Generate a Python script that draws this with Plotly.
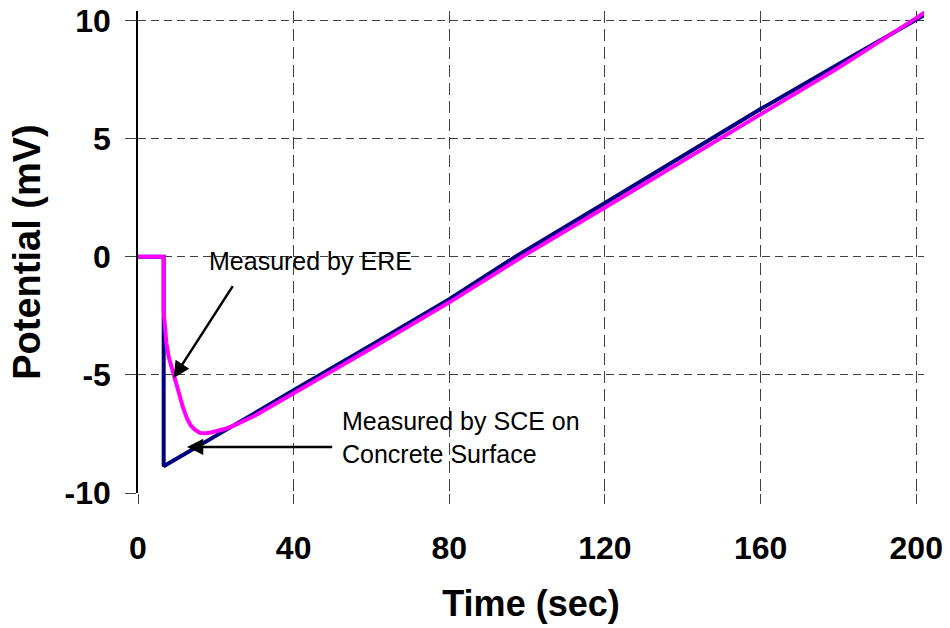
import plotly.graph_objects as go

# ---- data ----
sce_time = [0, 6.6, 6.6, 10, 20, 30, 40, 50, 60, 80, 97, 120, 147, 160, 180, 200, 205]
sce_mv = [0, 0, -8.87, -8.55, -7.6, -6.62, -5.65, -4.7, -3.74, -1.8, 0.0, 2.27, 4.97, 6.25, 8.15, 10.05, 10.5]

ere_time = [0, 6.6, 6.6, 6.9, 7.3, 7.9, 8.6, 9.3, 10.4, 11.5, 12.6, 13.6, 14.7, 16, 17.5, 19, 20.3,
            22.5, 24.6, 27, 30, 40, 50, 60, 80, 98.7, 120, 149.7, 160, 180, 200, 205]
ere_mv = [0, 0, -2.3, -3.0, -3.65, -4.25, -4.7, -5.05, -5.7, -6.35, -6.85, -7.15, -7.33, -7.46, -7.47,
          -7.43, -7.38, -7.28, -7.15, -6.98, -6.73, -5.78, -4.83, -3.87, -1.93, 0.0, 2.08, 5.0, 6.05, 8.0, 10.1, 10.65]

x_ticks = [0, 40, 80, 120, 160, 200]
x_tick_labels = ["0", "40", "80", "120", "160", "200"]
y_ticks = [-10, -5, 0, 5, 10]
y_tick_labels = ["-10", "-5", "0", "5", "10"]

FONT = "Arial, Liberation Sans, sans-serif"

fig = go.Figure()
fig.add_trace(go.Scatter(x=sce_time, y=sce_mv, mode="lines",
                         line=dict(color="#000080", width=4), showlegend=False))
fig.add_trace(go.Scatter(x=ere_time, y=ere_mv, mode="lines",
                         line=dict(color="#FF00FF", width=4), showlegend=False))

# arrows
fig.add_annotation(x=9.15, y=-5.13, ax=24.6, ay=-1.18, xref="x", yref="y", axref="x", ayref="y",
                   text="", showarrow=True, arrowhead=2, arrowsize=1.3, arrowwidth=2.5, arrowcolor="black")
fig.add_annotation(x=12.6, y=-8.05, ax=50.3, ay=-8.05, xref="x", yref="y", axref="x", ayref="y",
                   text="", showarrow=True, arrowhead=2, arrowsize=1.3, arrowwidth=2.5, arrowcolor="black")
# labels
fig.add_annotation(x=17.7, y=-0.16, xref="x", yref="y", text="Measured by ERE", showarrow=False,
                   xanchor="left", yanchor="middle", font=dict(family=FONT, size=25, color="black"))
fig.add_annotation(x=51.8, y=-7.66, xref="x", yref="y", text="Measured by SCE on<br>Concrete Surface",
                   showarrow=False, xanchor="left", yanchor="middle", align="left",
                   font=dict(family=FONT, size=25, color="black"))

grid_color = "#404040"
fig.update_xaxes(range=[0, 202], tickvals=x_ticks, ticktext=x_tick_labels, automargin=False,
                 showgrid=True, gridcolor=grid_color, gridwidth=1, griddash="12px,6px",
                 zeroline=False, showline=False,
                 ticks="outside", ticklen=10, tickcolor=grid_color, tickwidth=1,
                 ticklabelstandoff=17,
                 tickfont=dict(family=FONT, size=32, color="black", weight="bold"),
                 title=dict(text="Time (sec)", standoff=25,
                            font=dict(family=FONT, size=36, color="black", weight="bold")))
fig.update_yaxes(range=[-10, 10.4], tickvals=y_ticks, ticktext=y_tick_labels, automargin=False,
                 showgrid=True, gridcolor=grid_color, gridwidth=1, griddash="8px,5px",
                 zeroline=False, showline=True, linecolor="black", linewidth=1.5,
                 ticks="outside", ticklen=11, tickcolor=grid_color, tickwidth=1,
                 ticklabelstandoff=8,
                 tickfont=dict(family=FONT, size=32, color="black", weight="bold"),
                 title=dict(text="Potential (mV)", standoff=12,
                            font=dict(family=FONT, size=38, color="black", weight="bold")))

fig.update_layout(width=950, height=628, margin=dict(l=138, r=26, t=11, b=135),
                  plot_bgcolor="white", paper_bgcolor="white")

fig.write_html("out.html")
